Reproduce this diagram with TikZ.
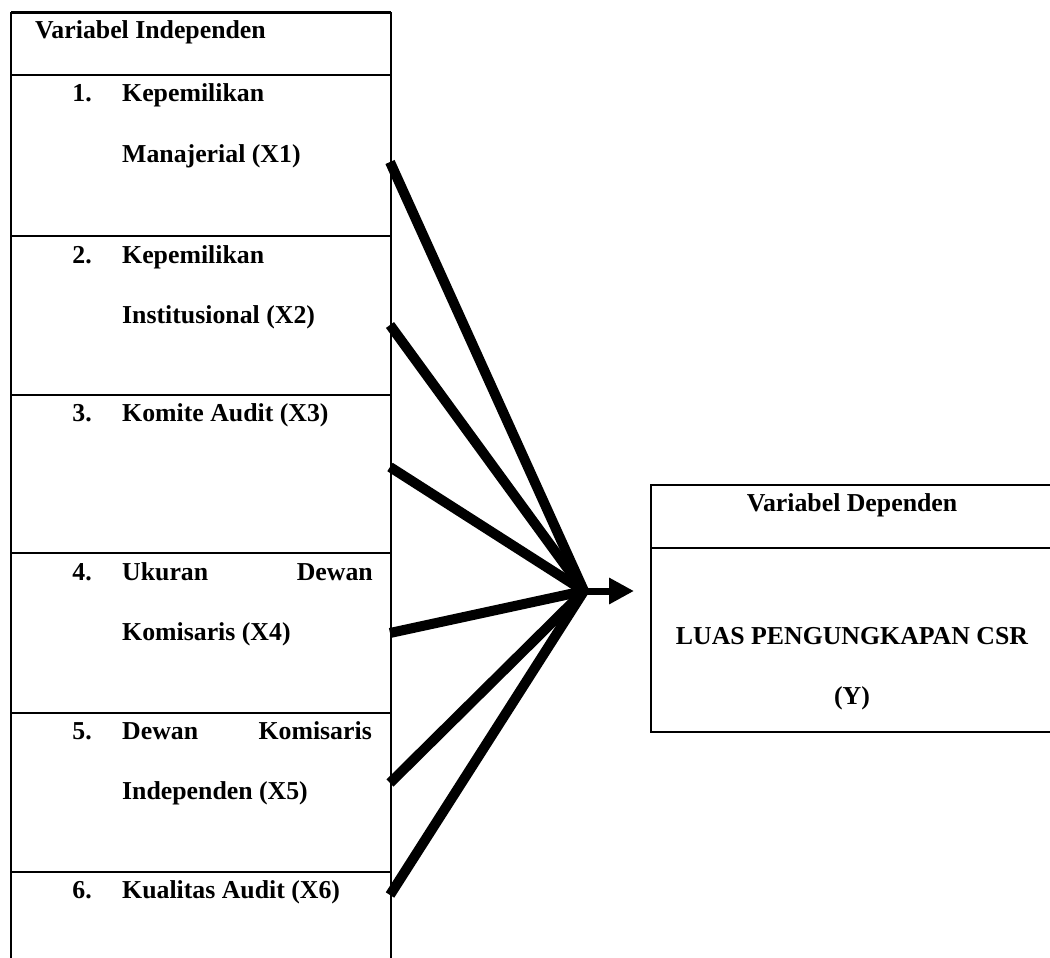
\documentclass[tikz,border=0pt]{standalone}
\usepackage{fontspec}
\setmainfont{Liberation Serif}
\usetikzlibrary{arrows.meta}
\begin{document}
\begin{tikzpicture}[x=1pt,y=-1pt,
  lbl/.style={inner sep=0pt,font=\fontsize{25.8}{30}\selectfont\bfseries,anchor=base west},
  lblr/.style={lbl,anchor=base east},
  lblc/.style={lbl,anchor=base},
  frame/.style={draw=black,line width=2.2pt},
  conn/.style={line width=10pt,draw=black,line cap=butt},
  shaft/.style={line width=7pt,draw=black,-{Triangle[length=25pt,width=25pt]}}]
\useasboundingbox (0,0) rectangle (1050,958);
\clip (0,0) rectangle (1050,958);
\fill[white] (0,0) rectangle (1050,958);
% left box
\draw[frame] (11,980) -- (11,13) -- (391,13) -- (391,980);
\draw[frame,line width=3pt] (11,13) -- (391,13);
\foreach \yy in {75,236,395,553,713,872} \draw[frame] (11,\yy) -- (391,\yy);
% header
\node[lbl] (hind) at (35,39) {Variabel Independen};
% row 1
\node[lblr] (n1) at (92,102) {1.};
\node[lbl] (x1a) at (122,102) {Kepemilikan};
\node[lbl] (x1b) at (122,162) {Manajerial (X1)};
% row 2
\node[lblr] (n2) at (92,263) {2.};
\node[lbl] (x2a) at (122,263) {Kepemilikan};
\node[lbl] (x2b) at (122,323) {Institusional (X2)};
% row 3
\node[lblr] (n3) at (92,421) {3.};
\node[lbl] (x3a) at (122,421) {Komite Audit (X3)};
% row 4
\node[lblr] (n4) at (92,580) {4.};
\node[lbl] (x4a) at (122,580) {Ukuran};
\node[lblr] (x4b) at (373,580) {Dewan};
\node[lbl] (x4c) at (122,640) {Komisaris (X4)};
% row 5
\node[lblr] (n5) at (92,739) {5.};
\node[lbl] (x5a) at (122,739) {Dewan};
\node[lblr] (x5b) at (372,739) {Komisaris};
\node[lbl] (x5c) at (122,799) {Independen (X5)};
% row 6
\node[lblr] (n6) at (92,898) {6.};
\node[lbl] (x6a) at (122,898) {Kualitas Audit (X6)};
% right box
\draw[frame] (1070,485) -- (651,485) -- (651,732) -- (1070,732);
\draw[frame] (651,548) -- (1070,548);
\node[lblc] (hdep) at (852,511) {Variabel Dependen};
\node[lblc] (ya) at (852,644) {LUAS PENGUNGKAPAN CSR};
\node[lblc] (yb) at (852,704) {(Y)};
% connectors
\coordinate (s1) at (390,162);
\coordinate (s2) at (390,325);
\coordinate (s3) at (390,467);
\coordinate (s4) at (390,633);
\coordinate (s5) at (390,783);
\coordinate (s6) at (390,895);
\coordinate (m) at (584,591);
\coordinate (t) at (634,591);
\foreach \s in {s1,s2,s3,s4,s5,s6} \draw[conn] (\s) -- (m);
\draw[shaft] (580,591) -- (t);
\end{tikzpicture}
\end{document}
